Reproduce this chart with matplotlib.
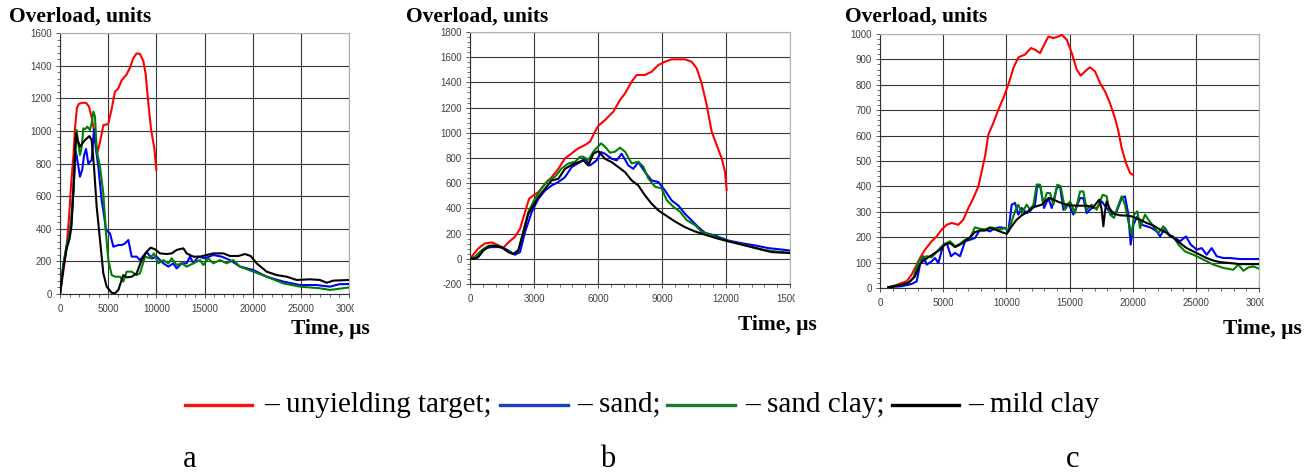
import matplotlib
matplotlib.use("Agg")
import matplotlib.pyplot as plt
from matplotlib.lines import Line2D
from matplotlib.ticker import MultipleLocator
from matplotlib.transforms import Bbox, TransformedBbox

plt.rcParams["axes.unicode_minus"] = False

W, H = 1313, 472

# ── Data ─────────────────────────────────────────────────────────────────────
# panel a
a_red_t = [0, 350, 700, 950, 1150, 1400, 1550, 1750, 1950, 2300, 2700, 3000, 3300, 3600, 3875,
           4150, 4500, 5000, 5350, 5700, 6050, 6400, 6900, 7250, 7600, 7950, 8300, 8650, 8900,
           9150, 9450, 9800, 10000]
a_red_v = [0, 140, 300, 480, 670, 850, 1010, 1140, 1165, 1172, 1172, 1150, 1080, 980, 866,
           930, 1035, 1042, 1130, 1240, 1260, 1310, 1345, 1385, 1445, 1475, 1472, 1428, 1345,
           1180, 1010, 890, 760]

a_blue_t = [0, 350, 700, 1000, 1200, 1400, 1550, 1660, 1800, 2076, 2300, 2500, 2700, 2941, 3100,
            3287, 3530, 3700, 3979, 4325, 4600, 4775, 5190, 5536, 6055, 6400, 6747, 7093, 7439,
            7958, 8304, 8996, 9515, 10034, 10726, 11245, 11764, 12110, 12629, 13148, 13494,
            13840, 14359, 15051, 15916, 16781, 17646, 18684, 20068, 21452, 23182, 24912, 26642,
            28026, 29000, 30000]
a_blue_v = [0, 180, 300, 370, 470, 640, 800, 872, 820, 719, 760, 850, 889, 800, 810,
            821, 1011, 900, 780, 576, 470, 392, 372, 290, 300, 300, 310, 331, 229,
            229, 208, 259, 218, 229, 188, 168, 188, 157, 188, 188, 229,
            188, 229, 219, 239, 229, 208, 168, 147, 106, 76, 55, 55,
            45, 60, 61]

a_green_t = [0, 350, 700, 1000, 1200, 1400, 1550, 1730, 1900, 2076, 2250, 2422, 2600, 2837, 3114,
             3300, 3460, 3633, 3806, 4152, 4498, 4775, 5017, 5363, 5709, 6228, 6574, 6920, 7439,
             7958, 8304, 8823, 9342, 9757, 10207, 10726, 11245, 11591, 12110, 12629, 13148,
             13840, 14532, 14878, 15397, 15916, 16608, 17300, 17992, 18684, 20068, 21452,
             23182, 24912, 26988, 28026, 30000]
a_green_v = [0, 180, 300, 370, 470, 640, 820, 1005, 920, 852, 900, 1015, 1010, 1026, 1005,
             1050, 1118, 1087, 882, 780, 617, 372, 208, 116, 106, 106, 76, 137, 137,
             116, 127, 229, 219, 249, 188, 208, 188, 219, 178, 188, 168,
             188, 208, 178, 219, 188, 208, 188, 208, 168, 137, 106,
             65, 45, 35, 25, 40]

a_black_t = [0, 350, 700, 1000, 1200, 1400, 1500, 1661, 1850, 2076, 2350, 2595, 2800, 3045, 3287,
             3530, 3806, 4152, 4498, 4844, 5363, 5709, 6055, 6574, 6920, 7439, 7958, 8477, 8996,
             9411, 9861, 10380, 11072, 11591, 12110, 12802, 13148, 13840, 14532, 15224, 15916,
             16954, 17646, 18511, 19203, 19791, 20414, 21452, 22490, 23528, 24566, 25950,
             26988, 27680, 28372, 30000]
a_black_v = [0, 160, 280, 340, 420, 650, 800, 985, 940, 903, 925, 944, 955, 968, 944,
             780, 535, 331, 127, 45, 8, 4, 25, 116, 102, 106, 127, 208, 259,
             284, 274, 249, 245, 249, 270, 280, 249, 229, 229, 239, 249,
             249, 233, 233, 245, 233, 188, 137, 116, 106, 86, 90,
             86, 69, 82, 86]

# panel b
b_red_t = [0, 391, 703, 1016, 1328, 1563, 1797, 2109, 2344, 2578, 2766, 2969, 3203, 3516, 3828,
           4141, 4453, 4766, 5078, 5391, 5625, 5859, 6016, 6328, 6719, 7031, 7266, 7578, 7813,
           8203, 8516, 8828, 9141, 9453, 10078, 10391, 10625, 10859, 11094, 11328, 11563,
           11797, 11953, 12031]
b_red_v = [0, 83, 122, 130, 108, 87, 130, 175, 238, 370, 476, 503, 529, 595, 648,
           714, 797, 837, 877, 903, 930, 1009, 1056, 1101, 1168, 1260, 1313, 1406, 1459,
           1459, 1485, 1538, 1564, 1583, 1583, 1564, 1512, 1393, 1221, 1009, 903,
           797, 691, 546]

b_blue_t = [0, 391, 703, 1016, 1484, 1797, 2109, 2344, 2578, 2891, 3203, 3516, 3828, 4141, 4453,
            4766, 5156, 5391, 5625, 5938, 6141, 6328, 6641, 6875, 7109, 7422, 7656, 7891, 8203,
            8516, 8828, 9141, 9453, 9766, 10078, 10391, 10703, 11016, 11484, 12109, 12734,
            13359, 13984, 15000]
b_blue_v = [0, 13, 85, 93, 93, 66, 32, 53, 212, 370, 476, 542, 582, 609, 648,
            728, 767, 794, 741, 781, 847, 834, 794, 781, 834, 741, 714, 767, 688,
            622, 609, 542, 463, 423, 357, 304, 251, 206, 185, 145, 124,
            106, 85, 66]

b_green_t = [0, 234, 547, 859, 1172, 1484, 1797, 2031, 2266, 2500, 2734, 3047, 3359, 3672, 3984,
             4297, 4609, 4922, 5156, 5313, 5547, 5781, 6141, 6328, 6563, 6797, 7031, 7266, 7578,
             7891, 8125, 8359, 8672, 8984, 9219, 9531, 9844, 10156, 10547, 10859, 11328, 11953,
             12578, 13203, 13828, 14453, 15000]
b_green_v = [0, 16, 69, 103, 108, 87, 56, 42, 69, 214, 373, 479, 559, 624, 651,
             717, 757, 770, 810, 810, 784, 850, 916, 890, 842, 850, 882, 850, 757,
             770, 731, 638, 572, 559, 466, 413, 374, 307, 268, 214, 188, 148,
             122, 96, 69, 56, 50]

b_black_t = [0, 313, 625, 938, 1250, 1563, 1797, 2031, 2266, 2500, 2734, 2969, 3203, 3516, 3828,
             4141, 4453, 4766, 5078, 5313, 5547, 5781, 6016, 6328, 6641, 6953, 7266, 7578, 7891,
             8203, 8516, 8828, 9141, 9609, 10078, 10547, 11016, 11641, 12266, 12891, 13516,
             14141, 15000]
b_black_v = [0, 5, 66, 101, 101, 85, 53, 37, 66, 212, 357, 423, 489, 556, 622,
             635, 714, 746, 767, 781, 741, 834, 855, 794, 767, 728, 688, 622, 582,
             503, 437, 384, 349, 296, 251, 217, 191, 159, 132, 106, 79,
             53, 45]

# panel c
c_red_t = [660, 1188, 1715, 2111, 2507, 2903, 3167, 3563, 4090, 4486, 4882, 5278, 5674, 6202, 6598,
           6994, 7389, 7785, 8049, 8313, 8577, 8973, 9368, 9764, 10160, 10556, 10952, 11480,
           11955, 12272, 12668, 13064, 13328, 13724, 14120, 14384, 14780, 15180, 15570, 15885,
           16230, 16620, 17020, 17415, 17810, 18200, 18600, 18870, 19130, 19470, 19790, 20000]
c_red_v = [3, 10, 20, 26, 53, 92, 118, 151, 184, 203, 230, 249, 256, 249, 269,
           315, 354, 400, 459, 518, 604, 650, 702, 748, 801, 866, 908, 919,
           945, 938, 925, 965, 990, 984, 990, 997, 978, 925, 860, 836,
           853, 869, 853, 807, 774, 728, 669, 617, 551, 492, 453, 446]

c_blue_t = [660, 1715, 2507, 2903, 3167, 3431, 3695, 4090, 4354, 4618, 5014, 5278, 5621, 5938, 6334,
            6730, 7126, 7521, 7917, 8313, 8709, 9104, 9500, 9896, 10160, 10424, 10688, 10952,
            11216, 11612, 11876, 12272, 12457, 12720, 12985, 13328, 13592, 13988, 14252, 14516,
            14912, 15307, 15832, 16096, 16360, 16756, 17152, 17547, 17943, 18339, 18735, 19130,
            19394, 19658, 19843, 20054, 20371, 20714, 21110, 21506, 21901, 22165, 22561, 22957,
            23353, 23748, 24223, 24593, 25068, 25464, 25860, 26255, 26651, 27179, 27707, 28499,
            30000]
c_blue_v = [3, 7, 16, 26, 92, 125, 92, 105, 118, 98, 171, 177, 125, 138, 125,
            184, 190, 197, 230, 230, 223, 236, 239, 236, 223, 328, 335, 289,
            315, 295, 302, 328, 407, 394, 315, 354, 315, 394, 400, 308,
            334, 289, 354, 354, 295, 315, 315, 341, 315, 289, 302, 354,
            361, 289, 171, 249, 282, 249, 243, 236, 223, 203, 236, 203,
            197, 184, 203, 171, 151, 157, 131, 157, 125, 118, 118, 114,
            114]

c_green_t = [660, 1451, 2243, 2639, 3035, 3299, 3695, 4090, 4486, 4882, 5278, 5542, 5938, 6334, 6730,
             7126, 7521, 7917, 8313, 8709, 9104, 9500, 9896, 10160, 10424, 10688, 10952, 11216,
             11612, 11876, 12140, 12404, 12668, 12932, 13196, 13460, 13724, 14040, 14305, 14647,
             15043, 15436, 15832, 16096, 16360, 16756, 17152, 17626, 17943, 18207, 18524, 18788,
             19130, 19394, 19658, 19922, 20107, 20371, 20582, 20978, 21242, 21637, 22033, 22429,
             22825, 23221, 23616, 24144, 24804, 25596, 26387, 27179, 27971, 28367, 28763, 29158,
             29554, 30000]
c_green_v = [3, 10, 20, 39, 105, 118, 125, 121, 142, 164, 177, 184, 164, 174, 190,
             197, 239, 233, 230, 239, 236, 230, 236, 223, 262, 302, 328, 295,
             328, 308, 328, 407, 407, 328, 374, 374, 328, 407, 400, 308,
             341, 295, 380, 380, 308, 328, 308, 367, 361, 289, 276, 315,
             361, 328, 262, 210, 289, 302, 236, 289, 269, 243, 216, 243,
             210, 203, 171, 144, 131, 112, 92, 79, 72, 92, 68, 81,
             85, 76]

c_black_t = [660, 1451, 2243, 2771, 3167, 3563, 3958, 4354, 4750, 5146, 5542, 5938, 6334, 6730, 7126,
             7521, 7917, 8313, 8709, 9104, 9632, 10028, 10424, 10820, 11216, 11612, 12008, 12404,
             12800, 13064, 13381, 13724, 14120, 14516, 15043, 15832, 16360, 16888, 17152, 17363,
             17547, 17679, 17811, 17943, 18154, 18339, 18603, 18999, 19526, 19922, 20582, 21110,
             21637, 22165, 22693, 23221, 23748, 24276, 24804, 25332, 25860, 26387, 26915, 27707,
             28499, 30000]
c_black_v = [3, 10, 20, 46, 95, 112, 125, 138, 151, 171, 177, 161, 171, 184, 200,
             220, 226, 226, 236, 230, 220, 213, 243, 269, 286, 298, 315, 322,
             328, 341, 354, 348, 339, 332, 325, 324, 324, 319, 335, 348,
             308, 243, 302, 341, 315, 302, 291, 286, 285, 282, 269, 256,
             246, 230, 217, 197, 177, 157, 144, 131, 118, 108, 102, 98,
             94, 94]

PANELS = [
    dict(rect=(60, 33, 349, 294), xlim=30000, xmaj=5000, xmin=1000,
         ylim=(0, 1600), ymaj=200, ymin=40,
         series=[(a_red_t, a_red_v), (a_blue_t, a_blue_v), (a_green_t, a_green_v), (a_black_t, a_black_v)],
         title_x=9, time_x=291, time_y=334, letter="a", letter_x=183),
    dict(rect=(470, 32, 790, 284), xlim=15000, xmaj=3000, xmin=600,
         ylim=(-200, 1800), ymaj=200, ymin=40,
         series=[(b_red_t, b_red_v), (b_blue_t, b_blue_v), (b_green_t, b_green_v), (b_black_t, b_black_v)],
         title_x=406, time_x=738, time_y=330, letter="b", letter_x=600),
    dict(rect=(880, 34, 1259, 288), xlim=30000, xmaj=5000, xmin=1000,
         ylim=(0, 1000), ymaj=100, ymin=20,
         series=[(c_red_t, c_red_v), (c_blue_t, c_blue_v), (c_green_t, c_green_v), (c_black_t, c_black_v)],
         title_x=845, time_x=1223, time_y=334, letter="c", letter_x=1066),
]

COLORS = ["#ff0000", "#0000ff", "#008000", "#000000"]
LEG_COLORS = ["#ff1010", "#1c3fc0", "#1b7a2c", "#000000"]
SERIF = ["Liberation Serif", "DejaVu Serif"]
TICK_FONT = dict(family="Liberation Sans", size=7, color="#404040")

fig = plt.figure(figsize=(W / 100, H / 100), dpi=100)


def fx(px):
    return px / W


def fy(py):
    return 1 - py / H


for p in PANELS:
    x0, y0, x1, y1 = p["rect"]
    ax = fig.add_axes([fx(x0), fy(y1), fx(x1 - x0), (y1 - y0) / H])
    for (t, v), c in zip(p["series"], COLORS):
        ax.plot(t, v, color=c, lw=1.5, zorder=3)

    ax.set_xlim(0, p["xlim"])
    ax.set_ylim(*p["ylim"])
    ax.set_xticks(range(0, p["xlim"] + 1, p["xmaj"]))
    ax.set_yticks(range(p["ylim"][0], p["ylim"][1] + 1, p["ymaj"]))
    ax.xaxis.set_minor_locator(MultipleLocator(p["xmin"]))
    ax.yaxis.set_minor_locator(MultipleLocator(p["ymin"]))
    ax.grid(True, which="major", color="#353535", lw=0.8, zorder=1)
    ax.tick_params(which="major", length=3, width=0.7, color="#555555", pad=3)
    ax.tick_params(which="minor", length=2, width=0.6, color="#555555")
    ax.tick_params(axis="x", which="major", pad=4)
    for lab in ax.get_xticklabels() + ax.get_yticklabels():
        lab.set_fontfamily(TICK_FONT["family"])
        lab.set_fontsize(TICK_FONT["size"])
        lab.set_color(TICK_FONT["color"])
    for s in ("top", "right"):
        ax.spines[s].set_color("#b0b0b0")
    for s in ("left", "bottom"):
        ax.spines[s].set_color("#303030")
        ax.spines[s].set_linewidth(0.8)

    # last x tick label is cut off at the panel edge in the source image
    last = ax.xaxis.get_major_ticks()[-1].label1
    box = TransformedBbox(Bbox([[0, 0], [fx(x1 + 5), 1]]), fig.transFigure)
    last.set_clip_box(box)
    last.set_clip_on(True)

    fig.text(fx(p["title_x"]), fy(22), "Overload, units", family=SERIF,
             weight="bold", size=15.5, va="baseline", ha="left")
    fig.text(fx(p["time_x"]), fy(p["time_y"]), "Time, µs", family=SERIF,
             weight="bold", size=15.5, va="baseline", ha="left")
    fig.text(fx(p["letter_x"]), fy(467), p["letter"], family=SERIF,
             size=22, va="baseline", ha="left")

# legend row: short coloured line then "– name"
LEG_LABELS = ["– unyielding target;", "– sand;", "– sand clay;", "– mild clay"]
LEG_LINE_X = [(185, 252), (500, 568), (667, 735), (892, 959)]
LEG_TEXT_X = [264, 577, 745, 968]
for (lx0, lx1), tx, lab, c in zip(LEG_LINE_X, LEG_TEXT_X, LEG_LABELS, LEG_COLORS):
    fig.add_artist(Line2D([fx(lx0), fx(lx1)], [fy(405), fy(405)], color=c, lw=2.4,
                          transform=fig.transFigure))
    fig.text(fx(tx), fy(412), lab, family=SERIF, size=21, va="baseline", ha="left")

fig.savefig("out.png", dpi=100)
